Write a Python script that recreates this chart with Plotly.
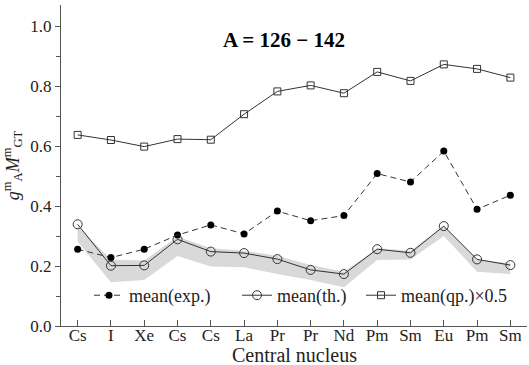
import plotly.graph_objects as go

nuclei = ["Cs", "I", "Xe", "Cs", "Cs", "La", "Pr", "Pr", "Nd", "Pm", "Sm", "Eu", "Pm", "Sm"]
mean_exp = [0.256, 0.228, 0.256, 0.303, 0.337, 0.307, 0.383, 0.351, 0.368, 0.508, 0.480, 0.583, 0.389, 0.436]
mean_th = [0.339, 0.201, 0.202, 0.289, 0.248, 0.243, 0.223, 0.187, 0.173, 0.256, 0.244, 0.333, 0.222, 0.203]
mean_qp_half = [0.637, 0.620, 0.598, 0.623, 0.621, 0.706, 0.782, 0.802, 0.776, 0.847, 0.817, 0.872, 0.857, 0.828]
band_upper = [0.333, 0.222, 0.218, 0.298, 0.259, 0.251, 0.234, 0.203, 0.181, 0.259, 0.251, 0.333, 0.222, 0.209]
band_lower = [0.281, 0.146, 0.153, 0.233, 0.198, 0.196, 0.173, 0.153, 0.129, 0.220, 0.222, 0.300, 0.181, 0.173]
y_ticks = [0.0, 0.2, 0.4, 0.6, 0.8, 1.0]
title_text = "A = 126 − 142"
x_title = "Central nucleus"

xs = list(range(len(nuclei)))
FONT = "Liberation Serif"
LINE = "#333333"

fig = go.Figure()
fig.add_trace(go.Scatter(x=xs, y=band_lower, mode="lines", line=dict(width=0),
                         showlegend=False, hoverinfo="skip"))
fig.add_trace(go.Scatter(x=xs, y=band_upper, mode="lines", line=dict(width=0),
                         fill="tonexty", fillcolor="#d9d9d9", showlegend=False, hoverinfo="skip"))
fig.add_trace(go.Scatter(x=xs, y=mean_exp, mode="lines+markers", name="mean(exp.)",
                         line=dict(color=LINE, width=1, dash="6px,4px"),
                         marker=dict(symbol="circle", size=7, color="black"), legend="legend"))
fig.add_trace(go.Scatter(x=xs, y=mean_th, mode="lines+markers", name="mean(th.)",
                         line=dict(color=LINE, width=1),
                         marker=dict(symbol="circle-open", size=9, color=LINE, line=dict(width=1)),
                         legend="legend2"))
fig.add_trace(go.Scatter(x=xs, y=mean_qp_half, mode="lines+markers", name="mean(qp.)×0.5",
                         line=dict(color=LINE, width=1),
                         marker=dict(symbol="square-open", size=7, color=LINE, line=dict(width=1)),
                         legend="legend3"))

plot_h = 365 - 5 - 39
plot_w = 529 - 61 - 2


def leg(px):
    return dict(x=(px - 61) / plot_w, y=0.095, xanchor="left", yanchor="middle",
                orientation="h", bgcolor="rgba(0,0,0,0)", font=dict(size=18, family=FONT))


fig.update_layout(
    width=529, height=365,
    margin=dict(l=61, r=2, t=5, b=39),
    plot_bgcolor="white", paper_bgcolor="white",
    font=dict(family=FONT, size=17, color="#222222"),
    showlegend=True,
    legend=leg(89), legend2=leg(237), legend3=leg(361),
    annotations=[
        dict(text="<b>" + title_text + "</b>", x=0.478, y=0.935, xref="paper", yref="paper",
             showarrow=False, font=dict(size=21, family=FONT, color="black")),
        dict(text=x_title, x=0.5, y=(326 - 355) / plot_h, xref="paper", yref="paper",
             showarrow=False, font=dict(size=20, family=FONT, color="#222222"), yanchor="middle"),
        dict(text="", x=0, xref="paper", y=1.072, yref="y", ax=0, ay=14,
             showarrow=True, arrowhead=2, arrowsize=1.2, arrowwidth=1.2, arrowcolor="#555555"),
    ],
)

fig.update_xaxes(range=[-0.5, 13.5], tickvals=xs, ticktext=nuclei, showgrid=False,
                 zeroline=False, showline=True, linecolor="#555555", linewidth=1.2,
                 ticks="inside", ticklen=6, tickcolor="#555555", ticklabelstandoff=-7,
                 tickfont=dict(size=17, family=FONT))
fig.update_yaxes(range=[0, 1.07], tickvals=y_ticks, ticktext=[f"{v:.1f}" for v in y_ticks],
                 showgrid=False, zeroline=False, showline=True, linecolor="#555555", linewidth=1.2,
                 ticks="outside", ticklen=5, tickcolor="#555555",
                 minor=dict(dtick=0.1, tick0=0, ticks="outside", ticklen=4, tickcolor="#555555"),
                 title=dict(text="<i>g</i><sup>m</sup><sub>A</sub><i>M</i><sup>m</sup><sub>GT</sub>",
                            font=dict(size=18, family=FONT), standoff=6),
                 tickfont=dict(size=17, family=FONT))

fig.write_html("out.html", config={"displayModeBar": False},
               post_script="document.body.style.margin='0px';")
